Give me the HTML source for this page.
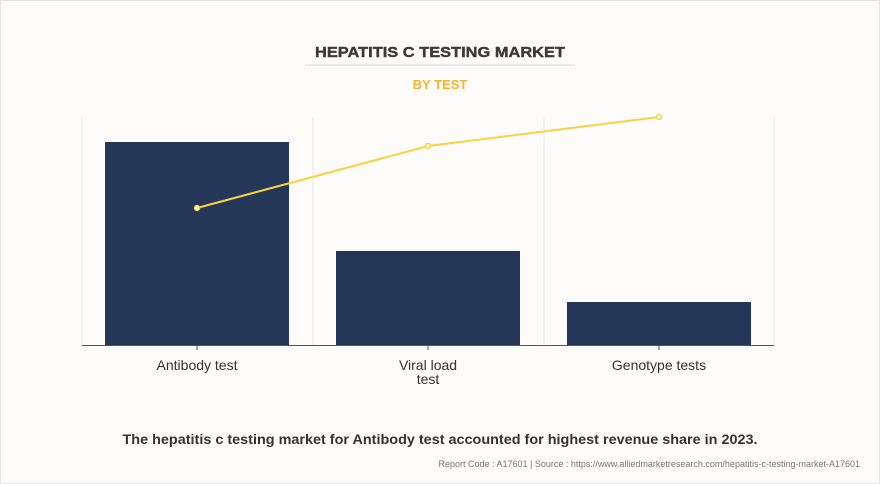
<!DOCTYPE html><html><head><style>body{margin:0;background:#fff}</style></head><body>
<svg width="880" height="484" xmlns="http://www.w3.org/2000/svg" style="display:block;font-family:'Liberation Sans',sans-serif">
<rect x="0.5" y="0.5" width="879" height="483" fill="#fdfcfb" stroke="#e6e6e6"/>
<text x="440" y="57" text-anchor="middle" font-size="15" font-weight="bold" fill="#3a3a3a" stroke="#3a3a3a" stroke-width="0.4" textLength="250" lengthAdjust="spacingAndGlyphs">HEPATITIS C TESTING MARKET</text>
<line x1="305" y1="65" x2="575" y2="65" stroke="#d8d8d8"/>
<text x="440" y="89" text-anchor="middle" font-size="13" font-weight="bold" fill="#f7b32b">BY TEST</text>
<g stroke="#e8e8e8"><line x1="82" y1="117" x2="82" y2="345"/><line x1="313" y1="117" x2="313" y2="345"/><line x1="544" y1="117" x2="544" y2="345"/><line x1="774" y1="117" x2="774" y2="345"/></g>
<g fill="#253759"><rect x="105" y="142" width="184" height="203"/><rect x="336" y="251" width="184" height="94"/><rect x="567" y="302" width="184" height="43"/></g>
<line x1="82" y1="345.5" x2="774" y2="345.5" stroke="#555"/>
<g stroke="#555"><line x1="197" y1="345" x2="197" y2="350"/><line x1="428" y1="345" x2="428" y2="350"/><line x1="659" y1="345" x2="659" y2="350"/></g>
<polyline points="197,208 428,146 659,117" fill="none" stroke="#fcd03e" stroke-width="2"/>
<g fill="#fff" stroke="#fcd03e" stroke-width="1.5"><circle cx="197" cy="208" r="2.5"/><circle cx="428" cy="146" r="2.5"/><circle cx="659" cy="117" r="2.5"/></g>
<g font-size="14" fill="#333" text-anchor="middle"><text x="197" y="370">Antibody test</text><text x="428" y="370">Viral load</text><text x="428" y="384">test</text><text x="659" y="370">Genotype tests</text></g>
<text x="440" y="444" text-anchor="middle" font-size="14" font-weight="bold" fill="#333" textLength="635" lengthAdjust="spacingAndGlyphs">The hepatitis c testing market for Antibody test accounted for highest revenue share in 2023.</text>
<text x="860" y="467" text-anchor="end" font-size="9" fill="#777">Report Code : A17601  |  Source : https://www.alliedmarketresearch.com/hepatitis-c-testing-market-A17601</text>
</svg></body></html>
